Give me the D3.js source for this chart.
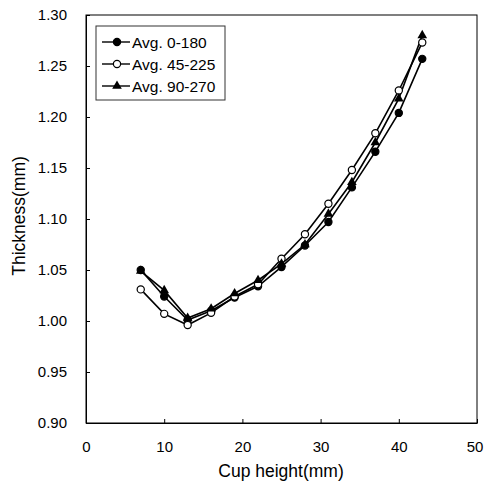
<!DOCTYPE html>
<html>
<head>
<meta charset="utf-8">
<script src="https://cdn.jsdelivr.net/npm/d3@7"></script>
<style>
  body { margin: 0; background: #fff; }
  text { font-family: Arial, "Liberation Sans", sans-serif; fill: #000; }
</style>
</head>
<body>
<svg id="chart" width="484" height="487"></svg>
<script>
// cup height positions (mm)
var heights = [7, 10, 13, 16, 19, 22, 25, 28, 31, 34, 37, 40, 43];

// averaged thickness (mm)
var avg0_180 = [1.050, 1.024, 1.001, 1.010, 1.023, 1.034, 1.053, 1.074, 1.097, 1.131, 1.166, 1.204, 1.257];
var avg45_225 = [1.031, 1.007, 0.996, 1.008, 1.024, 1.036, 1.061, 1.085, 1.115, 1.148, 1.184, 1.226, 1.273];
var avg90_270 = [1.049, 1.030, 1.003, 1.012, 1.027, 1.040, 1.056, 1.075, 1.105, 1.136, 1.175, 1.218, 1.280];

var seriesNames = ["Avg. 0-180", "Avg. 45-225", "Avg. 90-270"];
var markers = ["dot", "circle", "triangle"];

var xTicks = [0, 10, 20, 30, 40, 50];
var yTicks = [0.90, 0.95, 1.00, 1.05, 1.10, 1.15, 1.20, 1.25, 1.30];

var series = [avg0_180, avg45_225, avg90_270].map(function(vals, i) {
  return {
    name: seriesNames[i],
    marker: markers[i],
    points: vals.map(function(v, j) { return { x: heights[j], y: v }; })
  };
});

var svg = d3.select("#chart");
var plotL = 86, plotR = 477, plotT = 15, plotB = 423;

var x = d3.scaleLinear().domain([0, 50]).range([plotL, plotR]);
var y = d3.scaleLinear().domain([0.90, 1.30]).range([plotB, plotT]);

// frame
svg.append("rect")
  .attr("x", plotL).attr("y", plotT)
  .attr("width", plotR - plotL).attr("height", plotB - plotT)
  .attr("fill", "none").attr("stroke", "#000").attr("stroke-width", 1);

// axes with inward ticks
var xAxis = svg.append("g")
  .attr("transform", "translate(0," + plotB + ")")
  .call(d3.axisBottom(x).tickValues(xTicks).tickSizeInner(-4).tickSizeOuter(0).tickPadding(18)
    .tickFormat(d3.format("d")));
var yAxis = svg.append("g")
  .attr("transform", "translate(" + plotL + ",0)")
  .call(d3.axisLeft(y).tickValues(yTicks).tickSizeInner(-4).tickSizeOuter(0).tickPadding(19)
    .tickFormat(d3.format(".2f")));

[xAxis, yAxis].forEach(function(a) {
  a.select(".domain").attr("stroke", "#000");
  a.selectAll(".tick line").attr("stroke", "#000");
  a.selectAll("text").attr("font-size", 15).attr("font-family", "Arial, 'Liberation Sans', sans-serif");
});

// last x label sits on the window edge; nudge it in so it stays whole
xAxis.selectAll(".tick text")
  .filter(function(d) { return d === 50; })
  .attr("dx", -2.5);

svg.append("text")
  .attr("x", 281).attr("y", 477)
  .attr("text-anchor", "middle").attr("font-size", 17.5)
  .text("Cup height(mm)");

svg.append("text")
  .attr("transform", "translate(25,216) rotate(-90)")
  .attr("text-anchor", "middle").attr("font-size", 17.5)
  .text("Thickness(mm)");

var line = d3.line()
  .x(function(d) { return x(d.x); })
  .y(function(d) { return y(d.y); });

function drawMarker(g, type) {
  if (type === "triangle") {
    g.append("path")
      .attr("d", d3.symbol().type(d3.symbolTriangle).size(40))
      .attr("fill", "#000");
  } else {
    g.append("circle")
      .attr("r", 3.6)
      .attr("fill", type === "circle" ? "#fff" : "#000")
      .attr("stroke", "#000").attr("stroke-width", 1.2);
  }
}

series.forEach(function(s) {
  svg.append("path")
    .datum(s.points)
    .attr("d", line)
    .attr("fill", "none")
    .attr("stroke", "#000")
    .attr("stroke-width", 1.6);
});

series.forEach(function(s) {
  svg.selectAll(null)
    .data(s.points)
    .enter().append("g")
    .attr("transform", function(d) { return "translate(" + x(d.x) + "," + y(d.y) + ")"; })
    .each(function() { drawMarker(d3.select(this), s.marker); });
});

// legend
var legend = svg.append("g");
legend.append("rect")
  .attr("x", 96).attr("y", 26).attr("width", 129).attr("height", 74)
  .attr("fill", "#fff").attr("stroke", "#333").attr("stroke-width", 1);

series.forEach(function(s, i) {
  var ly = 42 + i * 22;
  legend.append("line")
    .attr("x1", 102).attr("x2", 130).attr("y1", ly).attr("y2", ly)
    .attr("stroke", "#000").attr("stroke-width", 1.4);
  var m = legend.append("g").attr("transform", "translate(117," + ly + ")");
  drawMarker(m, s.marker);
  legend.append("text")
    .attr("x", 132).attr("y", ly + 5.5)
    .attr("font-size", 15.5)
    .text(s.name);
});
</script>
</body>
</html>
